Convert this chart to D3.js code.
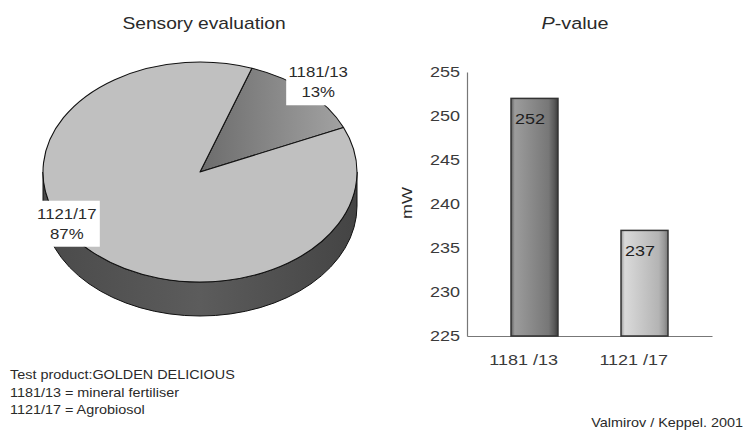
<!DOCTYPE html>
<html>
<head>
<meta charset="utf-8">
<script src="https://cdn.jsdelivr.net/npm/d3@7/dist/d3.min.js"></script>
<style>
  html, body { margin: 0; padding: 0; background: #fff; }
  svg { display: block; font-family: "Liberation Sans", Arial, sans-serif; }
</style>
</head>
<body>
<svg id="chart" width="745" height="432"></svg>
<script>
// Sensory evaluation shares (%)
const pieLabels = ["1181/13", "1121/17"];
const pieShares = [13, 87];

// P-value per variant (mW)
const barCategories = ["1181 /13", "1121 /17"];
const barValues = [252, 237];
const yTicks = [225, 230, 235, 240, 245, 250, 255];

// Notes
const notes = ["Test product:GOLDEN DELICIOUS", "1181/13 = mineral fertiliser", "1121/17 = Agrobiosol"];
const credit = "Valmirov / Keppel. 2001";

// all lettering is set slightly wide
const SX = 1.2;
const FONT = "Liberation Sans, Arial, sans-serif";

const svg = d3.select("#chart");
const defs = svg.append("defs");

function label(parent, x, y, txt, size, anchor = "start", rotate = 0) {
  return parent.append("text")
    .attr("transform", `translate(${x},${y})${rotate ? ` rotate(${rotate})` : ""} scale(${SX},1)`)
    .attr("text-anchor", anchor)
    .attr("font-size", size).attr("fill", "#2a2a2a")
    .text(txt);
}

function hGrad(id, stops) {
  const g = defs.append("linearGradient").attr("id", id)
    .attr("x1", "0%").attr("x2", "100%").attr("y1", "0%").attr("y2", "0%");
  stops.forEach(([o, c]) => g.append("stop").attr("offset", o).attr("stop-color", c));
}
hGrad("sliceSmall", [["0%", "#6c6c6c"], ["100%", "#a2a2a2"]]);
hGrad("sideGrad", [["0%", "#4a4a4a"], ["50%", "#5c5c5c"], ["100%", "#444"]]);
hGrad("bar0", [["0%", "#5e5e5e"], ["8%", "#9c9c9c"], ["80%", "#777"], ["92%", "#5a5a5a"], ["100%", "#3c3c3c"]]);
hGrad("bar1", [["0%", "#9a9a9a"], ["8%", "#dadada"], ["80%", "#b4b4b4"], ["92%", "#999"], ["100%", "#7a7a7a"]]);

// ---------- Pie (tilted, 3D) ----------
const cx = 200, cy = 172, rx = 157, ry = 110, depth = 34;
const start = 19.3 * Math.PI / 180;
const pie = d3.pie().sort(null).startAngle(start).endAngle(start + 2 * Math.PI);
const arcs = pie(pieShares);
const pieFills = ["url(#sliceSmall)", "#c0c0c0"];

const pt = (a, k = 1, dy = 0) => [cx + rx * k * Math.sin(a), cy - ry * k * Math.cos(a) + dy];

const gPie = svg.append("g");

// side wall: only the front half (angles PI/2 .. 3PI/2, modulo 2PI) is visible
function sidePath(a0, a1) {
  const p0 = pt(a0), p1 = pt(a1);
  const q1 = pt(a1, 1, depth), q0 = pt(a0, 1, depth);
  const large = (a1 - a0) > Math.PI ? 1 : 0;
  return `M${p0}A${rx},${ry} 0 ${large} 1 ${p1}L${q1}A${rx},${ry} 0 ${large} 0 ${q0}Z`;
}
arcs.forEach(d => {
  [0, 2 * Math.PI].forEach(off => {
    const lo = Math.max(d.startAngle, Math.PI / 2 + off);
    const hi = Math.min(d.endAngle, 3 * Math.PI / 2 + off);
    if (hi > lo) {
      gPie.append("path").attr("d", sidePath(lo, hi))
        .attr("fill", "url(#sideGrad)").attr("stroke", "#111").attr("stroke-width", 1);
    }
  });
});

// top face slices
function slicePath(d) {
  const p0 = pt(d.startAngle), p1 = pt(d.endAngle);
  const large = (d.endAngle - d.startAngle) > Math.PI ? 1 : 0;
  return `M${cx},${cy}L${p0}A${rx},${ry} 0 ${large} 1 ${p1}Z`;
}
gPie.selectAll("path.slice").data(arcs).join("path")
  .attr("class", "slice")
  .attr("d", slicePath)
  .attr("fill", (d, i) => pieFills[i])
  .attr("stroke", "#111").attr("stroke-width", 1.1).attr("stroke-linejoin", "round");

// slice labels in white boxes
const labelPlacement = [
  { angle: d => (d.startAngle + d.endAngle) / 2, k: 1.11 },
  { angle: () => 241 * Math.PI / 180, k: 0.97 }
];
arcs.forEach((d, i) => {
  const [lx, ly] = pt(labelPlacement[i].angle(d), labelPlacement[i].k);
  const g = gPie.append("g").attr("transform", `translate(${lx},${ly})`);
  g.append("rect").attr("x", -32).attr("y", -23).attr("width", 65).attr("height", 46).attr("fill", "#fff");
  label(g, 0, -5, pieLabels[i], 14, "middle");
  label(g, 0, 15, d.data + "%", 14, "middle");
});

label(svg, 204, 29, "Sensory evaluation", 16, "middle");

// ---------- Bar chart ----------
const y = d3.scaleLinear().domain([225, 255]).range([336, 72]);
const x = d3.scaleBand().domain(barCategories).range([467, 712])
  .paddingInner(0.573).paddingOuter(0.4);

const gY = svg.append("g").attr("transform", "translate(467,0)")
  .call(d3.axisLeft(y).tickValues(yTicks).tickSize(0).tickPadding(7 / SX));
gY.select(".domain").attr("stroke", "#777").attr("stroke-width", 1.2);
gY.selectAll("text").attr("font-size", 15).attr("fill", "#3a3a3a")
  .attr("font-family", FONT).attr("transform", `scale(${SX},1)`);

const gX = svg.append("g").attr("transform", "translate(0,336)")
  .call(d3.axisBottom(x).tickSize(0).tickPadding(18));
gX.select(".domain").attr("stroke", "#777").attr("stroke-width", 1.2);
gX.selectAll("text").attr("font-size", 15).attr("fill", "#3a3a3a").attr("dx", -9)
  .attr("font-family", FONT).attr("transform", `scale(${SX},1)`);

svg.append("g").selectAll("rect").data(barValues).join("rect")
  .attr("x", (d, i) => x(barCategories[i]))
  .attr("y", d => y(d))
  .attr("width", x.bandwidth())
  .attr("height", d => y(225) - y(d))
  .attr("fill", (d, i) => `url(#bar${i})`)
  .attr("stroke", "#333").attr("stroke-width", 1.5);

barValues.forEach((v, i) => {
  label(svg, x(barCategories[i]) + 4, y(v) + 26, v, 15).attr("fill", "#1e1e1e");
});

label(svg, 412, 203, "mW", 15, "middle", -90);

const pTitle = label(svg, 575, 29, "", 16.5, "middle");
pTitle.append("tspan").attr("font-style", "italic").text("P");
pTitle.append("tspan").text("-value");

// ---------- Notes ----------
notes.forEach((t, i) => label(svg, 10, 379 + i * 17.5, t, 12));
label(svg, 743, 427, credit, 12, "end");
</script>
</body>
</html>
